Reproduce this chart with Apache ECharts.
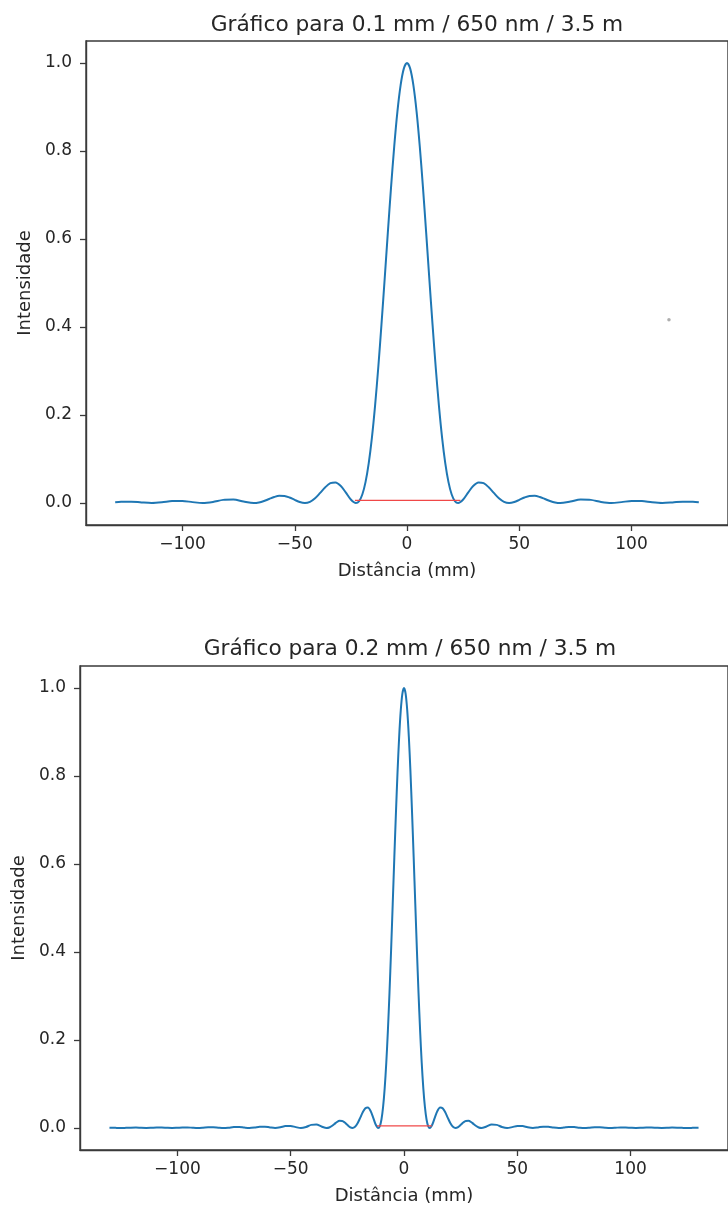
<!DOCTYPE html>
<html>
<head>
<meta charset="utf-8">
<script src="https://cdn.jsdelivr.net/npm/echarts@6/dist/echarts.min.js"></script>
<style>
html,body{margin:0;padding:0;background:#fff;}
#chart{width:728px;height:1207px;}
</style>
</head>
<body>
<div id="chart"></div>
<script>
// ---------- Data ----------
const titleTop = 'Gráfico para 0.1 mm / 650 nm / 3.5 m';
const titleBottom = 'Gráfico para 0.2 mm / 650 nm / 3.5 m';
const xAxisName = 'Distância (mm)';
const yAxisName = 'Intensidade';
const xTicks = [-100, -50, 0, 50, 100];
const yTicks = [0, 0.2, 0.4, 0.6, 0.8, 1.0];

// Top panel (0.1 mm slit)
const topX = [-130, -127.4, -122.85, -118.3, -113.75, -109.2, -104.65, -100.1, -95.55, -91,
  -86.45, -81.9, -77.35, -72.8, -68.25, -65.98, -63.7, -61.43, -59.15, -56.88,
  -54.6, -52.33, -50.05, -47.78, -45.5, -43.23, -40.95, -38.68, -36.4, -34.13,
  -31.85, -29.58, -27.3, -25.03, -22.75, -21.33, -19.91, -18.48, -17.06, -15.64,
  -14.22, -12.8, -11.38, -9.95, -8.53, -7.11, -5.69, -4.27, -2.84, -1.42,
  0,
  1.42, 2.84, 4.27, 5.69, 7.11, 8.53, 9.95, 11.38, 12.8, 14.22,
  15.64, 17.06, 18.48, 19.91, 21.33, 22.75, 25.03, 27.3, 29.58, 31.85,
  34.13, 36.4, 38.68, 40.95, 43.23, 45.5, 47.78, 50.05, 52.33, 54.6,
  56.88, 59.15, 61.43, 63.7, 65.98, 68.25, 72.8, 77.35, 81.9, 86.45,
  91, 95.55, 100.1, 104.65, 109.2, 113.75, 118.3, 122.85, 127.4, 130];
const topY = [0.0019, 0.0029, 0.0031, 0.0013, 0, 0.0015, 0.0043, 0.0047, 0.0020, 0,
  0.0024, 0.0071, 0.0079, 0.0034, 0, 0.0012, 0.0045, 0.0091, 0.0136, 0.0162,
  0.0159, 0.0125, 0.0072, 0.0022, 0, 0.0027, 0.0108, 0.0230, 0.0358, 0.0450,
  0.0468, 0.0392, 0.0243, 0.0080, 0, 0.0044, 0.0194, 0.0474, 0.0901, 0.1482,
  0.2214, 0.3080, 0.4053, 0.5092, 0.6150, 0.7173, 0.8106, 0.8896, 0.9497, 0.9872,
  1.0,
  0.9872, 0.9497, 0.8896, 0.8106, 0.7173, 0.6150, 0.5092, 0.4053, 0.3080, 0.2214,
  0.1482, 0.0901, 0.0474, 0.0194, 0.0044, 0, 0.0080, 0.0243, 0.0392, 0.0468,
  0.0450, 0.0358, 0.0230, 0.0108, 0.0027, 0, 0.0022, 0.0072, 0.0125, 0.0159,
  0.0162, 0.0136, 0.0091, 0.0045, 0.0012, 0, 0.0034, 0.0079, 0.0071, 0.0024,
  0, 0.0020, 0.0047, 0.0043, 0.0015, 0, 0.0013, 0.0031, 0.0029, 0.0019];
const topRedX = [-23.2, 23.8];
const topRedY = [0.006, 0.006];
const strayX = [116.7];
const strayY = [0.4165];

// Bottom panel (0.2 mm slit)
const bottomX = [-130, -127.4, -125.13, -122.85, -120.58, -118.3, -116.03, -113.75, -111.48, -109.2,
  -106.93, -104.65, -102.38, -100.1, -97.83, -95.55, -93.28, -91, -88.73, -86.45,
  -84.18, -81.9, -79.63, -77.35, -75.08, -72.8, -70.53, -68.25, -65.98, -63.7,
  -61.43, -59.15, -56.88, -54.6, -52.33, -50.05, -47.78, -45.5, -43.23, -40.95,
  -38.68, -36.4, -34.13, -32.99, -31.85, -30.71, -29.58, -28.44, -27.3, -26.16,
  -25.03, -23.89, -22.75, -21.61, -20.48, -19.34, -18.2, -17.06, -15.93, -14.79,
  -13.65, -12.51, -11.38, -10.66, -9.95, -9.24, -8.53, -7.82, -7.11, -6.4,
  -5.69, -4.98, -4.27, -3.55, -2.84, -2.13, -1.42, -0.71,
  0,
  0.71, 1.42, 2.13, 2.84, 3.55, 4.27, 4.98, 5.69, 6.4, 7.11,
  7.82, 8.53, 9.24, 9.95, 10.66, 11.38, 12.51, 13.65, 14.79, 15.93,
  17.06, 18.2, 19.34, 20.48, 21.61, 22.75, 23.89, 25.03, 26.16, 27.3,
  28.44, 29.58, 30.71, 31.85, 32.99, 34.13, 36.4, 38.68, 40.95, 43.23,
  45.5, 47.78, 50.05, 52.33, 54.6, 56.88, 59.15, 61.43, 63.7, 65.98,
  68.25, 70.53, 72.8, 75.08, 77.35, 79.63, 81.9, 84.18, 86.45, 88.73,
  91, 93.28, 95.55, 97.83, 100.1, 102.38, 104.65, 106.93, 109.2, 111.48,
  113.75, 116.03, 118.3, 120.58, 122.85, 125.13, 127.4, 130];
const bottomY = [0.0007, 0.0003, 0, 0.0003, 0.0008, 0.0009, 0.0003, 0, 0.0004, 0.0010,
  0.0010, 0.0004, 0, 0.0005, 0.0012, 0.0013, 0.0005, 0, 0.0006, 0.0016,
  0.0017, 0.0007, 0, 0.0008, 0.0021, 0.0022, 0.0009, 0, 0.0010, 0.0029,
  0.0031, 0.0013, 0, 0.0015, 0.0043, 0.0047, 0.0020, 0, 0.0024, 0.0071,
  0.0079, 0.0034, 0, 0.0012, 0.0045, 0.0091, 0.0136, 0.0162, 0.0159, 0.0125,
  0.0072, 0.0022, 0, 0.0027, 0.0108, 0.0230, 0.0358, 0.0450, 0.0468, 0.0392,
  0.0243, 0.0080, 0, 0.0044, 0.0194, 0.0474, 0.0901, 0.1482, 0.2214, 0.3080,
  0.4053, 0.5092, 0.6150, 0.7173, 0.8106, 0.8896, 0.9497, 0.9872,
  1.0,
  0.9872, 0.9497, 0.8896, 0.8106, 0.7173, 0.6150, 0.5092, 0.4053, 0.3080, 0.2214,
  0.1482, 0.0901, 0.0474, 0.0194, 0.0044, 0, 0.0080, 0.0243, 0.0392, 0.0468,
  0.0450, 0.0358, 0.0230, 0.0108, 0.0027, 0, 0.0022, 0.0072, 0.0125, 0.0159,
  0.0162, 0.0136, 0.0091, 0.0045, 0.0012, 0, 0.0034, 0.0079, 0.0071, 0.0024,
  0, 0.0020, 0.0047, 0.0043, 0.0015, 0, 0.0013, 0.0031, 0.0029, 0.0010,
  0, 0.0009, 0.0022, 0.0021, 0.0008, 0, 0.0007, 0.0017, 0.0016, 0.0006,
  0, 0.0005, 0.0013, 0.0012, 0.0005, 0, 0.0004, 0.0010, 0.0010, 0.0004,
  0, 0.0003, 0.0009, 0.0008, 0.0003, 0, 0.0003, 0.0007];
const bottomRedX = [-11.9, 12.3];
const bottomRedY = [0.005, 0.005];

// ---------- Chart ----------
const zip = (xs, ys) => xs.map((x, i) => [x, ys[i]]);
const FONT = 'DejaVu Sans';
const TXT = '#262626';
const SPINE = '#3a3a3a';

function xAxisFor(gridIndex) {
  return {
    type: 'value', gridIndex, min: -143, max: 143,
    name: xAxisName, nameLocation: 'middle', nameGap: 37,
    nameTextStyle: { fontFamily: FONT, fontSize: 18, color: TXT },
    axisLine: { show: true, onZero: false, lineStyle: { color: SPINE, width: 1.4 } },
    axisTick: { show: true, length: 6, customValues: xTicks, lineStyle: { color: SPINE, width: 1.3 } },
    axisLabel: { customValues: xTicks, margin: 11, fontFamily: FONT, fontSize: 17, color: TXT,
      formatter: v => String(v).replace('-', '\u2212') },
    splitLine: { show: false }
  };
}
function yAxisFor(gridIndex) {
  return {
    type: 'value', gridIndex, min: -0.05, max: 1.05,
    name: yAxisName, nameLocation: 'middle', nameGap: 46, nameRotate: 90,
    nameTextStyle: { fontFamily: FONT, fontSize: 18, color: TXT },
    axisLine: { show: true, onZero: false, lineStyle: { color: SPINE, width: 1.4 } },
    axisTick: { show: true, length: 6, customValues: yTicks, lineStyle: { color: SPINE, width: 1.3 } },
    axisLabel: { customValues: yTicks, margin: 14, fontFamily: FONT, fontSize: 17, color: TXT,
      formatter: v => Number(v).toFixed(1) },
    splitLine: { show: false }
  };
}

const chart = echarts.init(document.getElementById('chart'), null, { renderer: 'canvas' });
chart.setOption({
  backgroundColor: '#fff',
  animation: false,
  title: [
    { text: titleTop, left: 412, top: 9, textAlign: 'center',
      textStyle: { fontFamily: FONT, fontSize: 21.7, fontWeight: 'normal', color: TXT } },
    { text: titleBottom, left: 405, top: 633, textAlign: 'center',
      textStyle: { fontFamily: FONT, fontSize: 21.7, fontWeight: 'normal', color: TXT } }
  ],
  grid: [
    { left: 86, top: 41, width: 652, height: 484, show: true, borderColor: SPINE, borderWidth: 1.4, backgroundColor: 'transparent' },
    { left: 80, top: 666, width: 650, height: 484, show: true, borderColor: SPINE, borderWidth: 1.4, backgroundColor: 'transparent' }
  ],
  xAxis: [xAxisFor(0), xAxisFor(1)],
  yAxis: [yAxisFor(0), yAxisFor(1)],
  series: [
    { type: 'line', xAxisIndex: 0, yAxisIndex: 0, data: zip(topX, topY), showSymbol: false,
      smooth: 0.3, lineStyle: { color: '#1f77b4', width: 2 }, z: 3 },
    { type: 'line', xAxisIndex: 0, yAxisIndex: 0, data: zip(topRedX, topRedY), showSymbol: false,
      lineStyle: { color: '#f04848', width: 1.2 }, z: 4 },
    { type: 'scatter', xAxisIndex: 0, yAxisIndex: 0, data: zip(strayX, strayY), symbolSize: 3.5,
      itemStyle: { color: '#9a9a9a' }, z: 2 },
    { type: 'line', xAxisIndex: 1, yAxisIndex: 1, data: zip(bottomX, bottomY), showSymbol: false,
      smooth: 0.3, lineStyle: { color: '#1f77b4', width: 2 }, z: 3 },
    { type: 'line', xAxisIndex: 1, yAxisIndex: 1, data: zip(bottomRedX, bottomRedY), showSymbol: false,
      lineStyle: { color: '#f04848', width: 1.2 }, z: 4 }
  ]
});
</script>
</body>
</html>
